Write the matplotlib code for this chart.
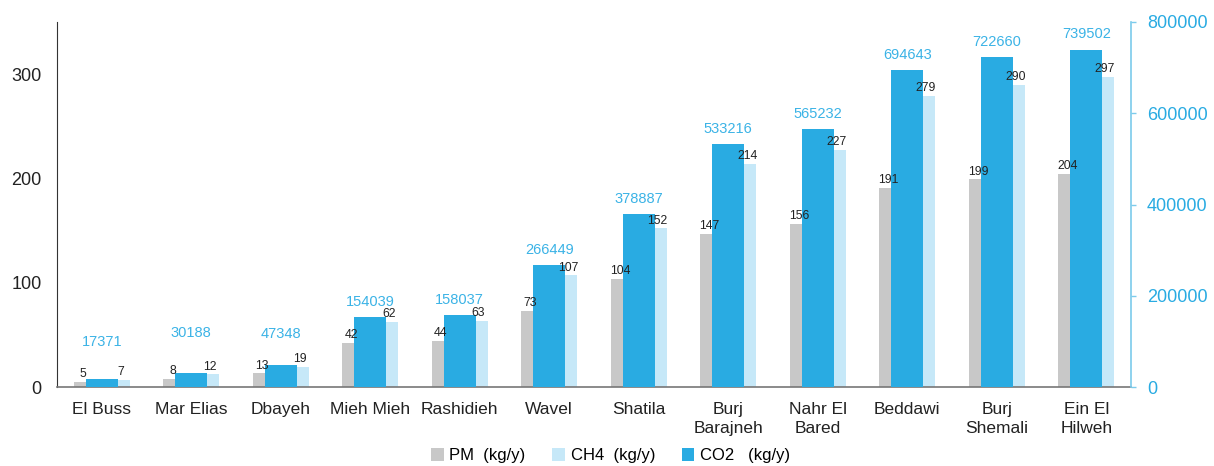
import matplotlib
matplotlib.use("Agg")
import matplotlib.pyplot as plt
import numpy as np
from matplotlib.patches import Patch

plt.rcParams['font.family'] = ['Liberation Sans', 'DejaVu Sans']

categories = ["El Buss", "Mar Elias", "Dbayeh", "Mieh Mieh", "Rashidieh", "Wavel",
              "Shatila", "Burj\nBarajneh", "Nahr El\nBared", "Beddawi", "Burj\nShemali",
              "Ein El\nHilweh"]
pm_values = [5, 8, 13, 42, 44, 73, 104, 147, 156, 191, 199, 204]
ch4_values = [7, 12, 19, 62, 63, 107, 152, 214, 227, 279, 290, 297]
co2_values = [17371, 30188, 47348, 154039, 158037, 266449, 378887, 533216, 565232,
              694643, 722660, 739502]
series_names = ["PM  (kg/y)", "CH4  (kg/y)", "CO2   (kg/y)"]

# label lift above the CO2 bars, in points (first ones sit higher)
co2_label_lift = [24, 26, 20, 8, 8, 8, 8, 8, 8, 8, 8, 8]

GRAY = "#C8C8C8"
LIGHT = "#C6E8F8"
BLUE = "#29ABE2"
AXBLUE = "#7CCBEB"

fig = plt.figure(figsize=(12.14, 4.66), dpi=100)
ax1 = fig.add_axes([0.047, 0.1695, 0.8846, 0.7833])
ax2 = ax1.twinx()

x = np.arange(len(categories))
w_small = 0.313
off = 0.156
w_co2 = 0.36

ax1.bar(x - off, pm_values, width=w_small, color=GRAY, zorder=2)
ax1.bar(x + off, ch4_values, width=w_small, color=LIGHT, zorder=2)
ax2.bar(x, co2_values, width=w_co2, color=BLUE, zorder=2)

ax1.set_xlim(-0.5, len(categories) - 0.5)
ax1.set_ylim(0, 350)
ax2.set_ylim(0, 800000)
ax1.set_yticks([0, 100, 200, 300])
ax2.set_yticks([0, 200000, 400000, 600000, 800000])
ax1.set_xticks(x)
ax1.set_xticklabels(categories, fontsize=12.5, color="#222222", linespacing=1.35)
ax1.tick_params(axis='x', length=0, pad=10.5)
ax1.tick_params(axis='y', length=0, pad=11, labelsize=13, labelcolor="#222222")
ax2.tick_params(axis='y', length=3.5, width=1, color=AXBLUE, pad=8,
                labelsize=13, labelcolor=BLUE)

for a in (ax1, ax2):
    a.spines['top'].set_visible(False)
ax1.spines['left'].set_color("#333333")
ax1.spines['right'].set_visible(False)
ax1.spines['bottom'].set_color("#777777")
ax1.spines['bottom'].set_linewidth(1.2)
ax2.spines['left'].set_visible(False)
ax2.spines['bottom'].set_visible(False)
ax2.spines['right'].set_color(AXBLUE)
ax2.spines['right'].set_linewidth(1.2)

# CO2 labels
for xi, v, lift in zip(x, co2_values, co2_label_lift):
    ax2.annotate(f"{v}", xy=(xi, v), xytext=(0, lift), textcoords="offset points",
                 ha="center", va="baseline", fontsize=10.5, color="#3BB3E6", zorder=5)

# PM and CH4 labels drawn on top of the CO2 bars
for xi, v in zip(x, pm_values):
    ax2.annotate(f"{v}", xy=(xi - off, v), xycoords=ax1.transData,
                 xytext=(-3.5, 3.5), textcoords="offset points",
                 ha="center", va="baseline", fontsize=8.8, color="#222222", zorder=6)
for xi, v in zip(x, ch4_values):
    ax2.annotate(f"{v}", xy=(xi + off, v), xycoords=ax1.transData,
                 xytext=(3.5, 3.5), textcoords="offset points",
                 ha="center", va="baseline", fontsize=8.8, color="#222222", zorder=6)

handles = [Patch(facecolor=GRAY), Patch(facecolor=LIGHT), Patch(facecolor=BLUE)]
fig.legend(handles, series_names, loc="center", bbox_to_anchor=(0.503, 0.022),
           ncol=3, frameon=False, fontsize=12, handlelength=0.75, handleheight=0.75,
           handletextpad=0.35, columnspacing=1.6)

fig.savefig("out.png", dpi=100)
